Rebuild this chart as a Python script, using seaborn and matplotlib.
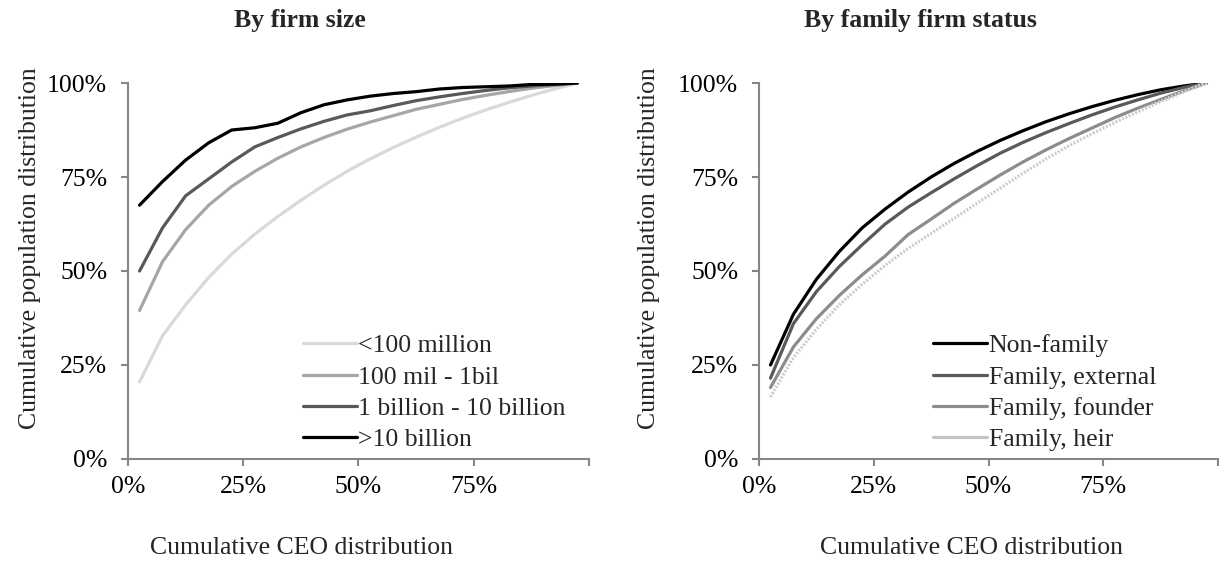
import matplotlib.pyplot as plt
import matplotlib.patheffects as pe
import pandas as pd
import seaborn as sns

# Cumulative CEO distribution (bin midpoints, %)
ceo_cum = [2.5, 7.5, 12.5, 17.5, 22.5, 27.5, 32.5, 37.5, 42.5, 47.5,
           52.5, 57.5, 62.5, 67.5, 72.5, 77.5, 82.5, 87.5, 92.5, 97.5]

# By firm size: cumulative population distribution (%)
size_labels = ['<100 million', '100 mil - 1bil', '1 billion - 10 billion', '>10 billion']
size_lt100m = [20.5, 32.8, 41.0, 48.3, 54.5, 59.8, 64.5, 68.8, 72.8, 76.5,
               79.8, 82.8, 85.6, 88.2, 90.6, 92.8, 94.8, 96.7, 98.4, 100.0]
size_100m_1b = [39.5, 52.5, 61.0, 67.5, 72.5, 76.5, 80.0, 83.0, 85.5, 87.7,
                89.6, 91.3, 93.0, 94.3, 95.6, 96.7, 97.7, 98.6, 99.3, 100.0]
size_1b_10b = [50.0, 61.5, 70.0, 74.5, 79.0, 83.0, 85.5, 87.8, 89.8, 91.5,
               92.6, 94.0, 95.3, 96.3, 97.2, 98.0, 98.7, 99.2, 99.6, 100.0]
size_gt10b = [67.5, 73.8, 79.5, 84.1, 87.5, 88.1, 89.3, 92.1, 94.2, 95.5,
              96.5, 97.2, 97.7, 98.4, 98.8, 99.0, 99.2, 99.6, 99.7, 100.0]

# By family firm status
fam_labels = ['Non-family', 'Family, external', 'Family, founder', 'Family, heir']
fam_non = [25.0, 38.5, 47.8, 55.2, 61.5, 66.5, 71.0, 75.0, 78.6, 81.8,
           84.7, 87.3, 89.7, 91.8, 93.7, 95.4, 96.9, 98.2, 99.2, 100.0]
fam_external = [21.5, 36.0, 44.5, 51.2, 57.0, 62.5, 67.0, 70.8, 74.5, 78.0,
                81.3, 84.2, 86.8, 89.2, 91.5, 93.6, 95.5, 97.3, 98.8, 100.0]
fam_founder = [19.0, 29.8, 37.3, 43.5, 49.0, 54.0, 59.7, 63.8, 68.0, 71.8,
               75.5, 79.0, 82.2, 85.2, 88.0, 90.8, 93.3, 95.6, 97.9, 100.0]
fam_heir = [16.5, 27.0, 34.5, 41.0, 46.5, 51.5, 56.0, 60.0, 64.0, 68.0,
            72.0, 76.0, 79.8, 83.3, 86.5, 89.5, 92.3, 95.0, 97.6, 100.0]

size_colors = ['#d9d9d9', '#a6a6a6', '#595959', '#000000']
fam_colors = ['#000000', '#595959', '#8c8c8c', '#c4c4c4']


def long_df(labels, series):
    rows = []
    for lab, vals in zip(labels, series):
        for x, y in zip(ceo_cum, vals):
            rows.append({'ceo': x, 'pop': y, 'group': lab})
    return pd.DataFrame(rows)


df_size = long_df(size_labels, [size_lt100m, size_100m_1b, size_1b_10b, size_gt10b])
df_fam = long_df(fam_labels, [fam_non, fam_external, fam_founder, fam_heir])

sns.set_theme(style='white')
plt.rcParams['font.family'] = ['Liberation Serif', 'DejaVu Serif']
FS = 18.5
SPINE = '#868686'

fig = plt.figure(figsize=(12.25, 5.62), dpi=100)
ax1 = fig.add_axes([0.1045, 0.1833, 0.3763, 0.669])
ax2 = fig.add_axes([0.6196, 0.1833, 0.3747, 0.669])


def style_axes(ax, title, title_x, xlab_x, ylab_x):
    ax.set_xlim(0, 100)
    ax.set_ylim(0, 100)
    ax.set_xticks([0, 25, 50, 75, 100])
    ax.set_xticklabels(['0%', '25%', '50%', '75%', ''])
    ax.set_yticks([0, 25, 50, 75, 100])
    ax.set_yticklabels(['0%', '25%', '50%', '75%', '100%'])
    for s in ['top', 'right']:
        ax.spines[s].set_visible(False)
    for s in ['left', 'bottom']:
        ax.spines[s].set_color(SPINE)
        ax.spines[s].set_linewidth(1.5)
    ax.tick_params(bottom=True, left=True, direction='out', length=5, width=1.5,
                   color=SPINE, labelsize=FS, labelcolor='black')
    ax.tick_params(axis='x', pad=7)
    ax.tick_params(axis='y', pad=10)
    ax.set_title(title, fontsize=FS, fontweight='bold', x=title_x, y=1.165,
                 va='center', pad=0)
    ax.set_xlabel('Cumulative CEO distribution', fontsize=FS)
    ax.xaxis.set_label_coords(xlab_x, -0.237)
    ax.xaxis.label.set_va('center')
    ax.set_ylabel('Cumulative population distribution', fontsize=FS)
    ax.yaxis.set_label_coords(ylab_x, 0.56)
    ax.yaxis.label.set_va('center')


sns.lineplot(data=df_size, x='ceo', y='pop', hue='group', hue_order=size_labels,
             palette=size_colors, linewidth=2.3, ax=ax1)
sns.lineplot(data=df_fam, x='ceo', y='pop', hue='group', hue_order=fam_labels,
             palette=fam_colors, linewidth=2.3, ax=ax2)

# textured look for the "heir" line
heir_line = ax2.lines[3]
heir_line.set_linewidth(1.3)
heir_line.set_linestyle((0, (1, 1)))
heir_line.set_path_effects([pe.Stroke(linewidth=2.8, foreground='#e2e2e2'), pe.Normal()])

style_axes(ax1, 'By firm size', 0.373, 0.377, -0.213)
style_axes(ax2, 'By family firm status', 0.351, 0.462, -0.240)

for ax in (ax1, ax2):
    h, l = ax.get_legend_handles_labels()
    ax.legend(h, l, loc='lower left', bbox_to_anchor=(0.38, 0.02), frameon=False,
              fontsize=FS, handlelength=2.1, handletextpad=0.05, labelspacing=0.33,
              borderpad=0, borderaxespad=0)

fig.savefig('out.png', dpi=100)
